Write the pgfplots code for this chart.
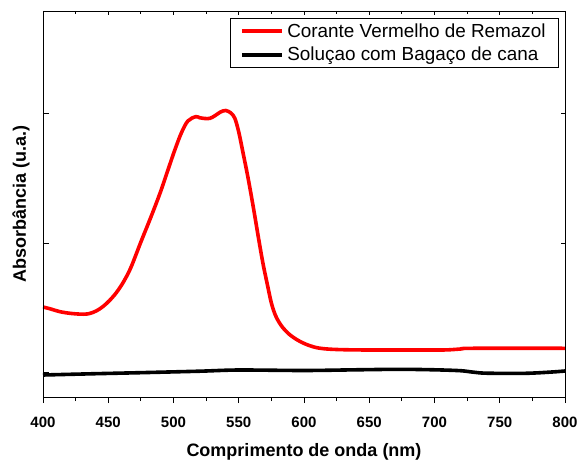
\documentclass[border=0pt]{standalone}
\usepackage{pgfplots}
\pgfplotsset{compat=1.18}
\usepackage{fontspec}
\setmainfont{Liberation Sans}

% Absorbance spectra (arbitrary units)
\pgfplotstableread{
nm    A
400   90
406   88
413   85.3
422   83.5
431   82.8
436   83.6
441   86.2
446   90.5
451   96.5
456   104
460   111.5
464   120.5
468   131.5
475   155
483   181
490   205
496   228
501   247
506   264
511   276
517   280.3
520   279.3
524   278.5
528   278.7
532   281.5
536   285
540   286.5
544   284
547   278.7
550   265
553   246
557   220
561   191
565   160
568.5 134
572   112
575   94
578   82
581   74.5
584   69
588   63.5
592   59.5
597   55.5
604   51.5
612   48.8
625   47.5
650   47
700   47
711   47.2
720   48
729   48.7
800   48.7
}\redtable

\pgfplotstableread{
nm    A
400   22
440   23.3
474   24.3
520   25.8
550   27
600   26.5
640   27.2
673   27.7
700   27.2
720   26.3
730   24.8
740   23.8
770   23.7
790   25.0
800   26
}\blacktable

\begin{document}
\begin{tikzpicture}
\pgfplotsset{
  chartframe/.style={
    scale only axis,
    width=522pt, height=386pt,
    xmin=400, xmax=800, ymin=0, ymax=386,
    axis line style={line width=0.9pt},
    xtick={400,450,...,800},
    minor x tick num=1,
    ytick={24.6,154,283.3},
  },
}
\begin{scope}[overlay]
\begin{axis}[
  chartframe,
  xtick pos=bottom, ytick pos=left,
  xtick align=outside, ytick align=inside,
  major tick length=6pt, minor tick length=4pt,
  every tick/.style={line width=0.9pt, black},
  yticklabels={},
  /pgf/number format/assume math mode=true,
  /pgf/number format/1000 sep={},
  tick label style={font=\bfseries\fontsize{15}{15}\selectfont},
  xticklabel style={yshift=-10pt},
  xlabel={Comprimento de onda (nm)},
  ylabel={Absorbância (u.a.)},
  label style={font=\bfseries\fontsize{18}{18}\selectfont},
  xlabel style={yshift=-9pt},
  ylabel style={yshift=3pt},
  legend style={
    at={(rel axis cs:0.9885,0.9819)}, anchor=north east,
    draw=black, line width=0.6pt,
    font=\fontsize{18.9}{21}\selectfont,
    inner xsep=9.5pt, inner ysep=4.5pt,
    row sep=6pt,
    nodes={inner xsep=3.5pt, inner ysep=1pt},
    legend cell align=left,
  },
  legend image code/.code={\draw[#1, line width=4pt] (0pt,0pt) -- (40pt,0pt);},
]
\addplot[red, line width=3.6pt, smooth, tension=0.55] table[x=nm, y=A] {\redtable};
\addlegendentry{Corante Vermelho de Remazol}
\addplot[black, line width=3.6pt, smooth, tension=0.5] table[x=nm, y=A] {\blacktable};
\addlegendentry{Soluçao com Bagaço de cana}
\end{axis}
% mirrored ticks on the top and right edges
\begin{axis}[
  chartframe,
  xtick pos=top, ytick pos=right,
  tick align=inside,
  major tick length=4pt, minor tick length=3pt,
  every tick/.style={line width=0.9pt, black},
  xticklabels={}, yticklabels={},
]
\end{axis}
\end{scope}
\path (-43pt,-62pt) rectangle (536pt,397pt);
\end{tikzpicture}
\end{document}
